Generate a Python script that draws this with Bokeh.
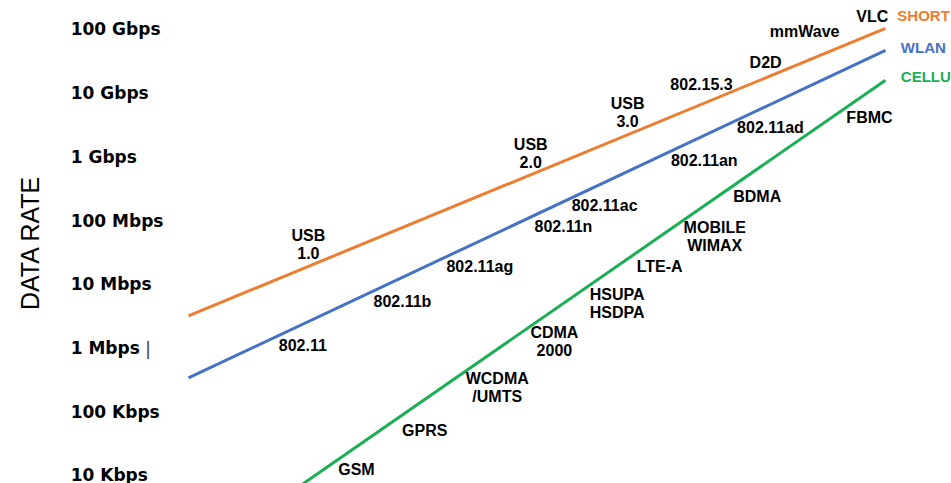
import math
from bokeh.plotting import figure
from bokeh.models import Range1d, ColumnDataSource
from bokeh.core.properties import value
from bokeh.embed import file_html
from bokeh.resources import INLINE

# ---- data -------------------------------------------------------------
tick_values = [1e11, 1e10, 1e9, 1e8, 1e7, 1e6, 1e5, 1e4]
tick_labels = ["100 Gbps", "10 Gbps", "1 Gbps", "100 Mbps",
               "10 Mbps", "1 Mbps", "100 Kbps", "10 Kbps"]

series_names = ["SHORT RANGE", "WLAN", "CELLULAR"]
series_colors = ["#ED7D31", "#4472C4", "#1AAF54"]
series_x_start = [0.0, 0.0, 14.2]
series_x_end = [100.0, 100.0, 100.0]
series_rate_start = [3.2e6, 3.4e5, 5.0e3]
series_rate_end = [1.04e11, 4.7e10, 1.6e10]
series_name_x = [101.7, 102.2, 102.2]
series_name_rate = [1.66e11, 5.2e10, 1.83e10]

short_tech = ["USB\n1.0", "USB\n2.0", "USB\n3.0", "802.15.3", "D2D", "mmWave", "VLC"]
short_x = [17.2, 49.1, 63.0, 73.6, 82.8, 88.4, 98.1]
short_rate = [4.2e7, 1.13e9, 4.98e9, 1.37e10, 3.03e10, 9.3e10, 1.6e11]

wlan_tech = ["802.11", "802.11b", "802.11ag", "802.11n", "802.11ac", "802.11an", "802.11ad"]
wlan_x = [16.4, 30.7, 41.8, 53.8, 59.7, 74.0, 83.5]
wlan_rate = [1.13e6, 5.4e6, 1.9e7, 8.1e7, 1.73e8, 8.8e8, 2.9e9]

cell_tech = ["GSM", "GPRS", "WCDMA\n/UMTS", "CDMA\n2000", "HSUPA\nHSDPA",
             "LTE-A", "MOBILE\nWIMAX", "BDMA", "FBMC"]
cell_x = [24.1, 33.9, 44.3, 52.5, 61.5, 67.6, 75.5, 81.6, 97.7]
cell_rate = [1.24e4, 5.1e4, 2.4e5, 1.26e6, 5.0e6, 1.9e7, 5.6e7, 2.39e8, 4.16e9]

axis_title = "DATA RATE"

# ---- figure -----------------------------------------------------------
p = figure(width=951, height=483, output_backend="svg", toolbar_location=None,
           y_axis_type="log", x_axis_location=None, y_axis_location=None,
           x_range=Range1d(-26.97, 109.47),
           y_range=Range1d(10 ** 3.873, 10 ** 11.455),
           min_border=0, min_border_left=0, min_border_right=0,
           min_border_top=0, min_border_bottom=0)
p.outline_line_color = None
p.xgrid.visible = False
p.ygrid.visible = False
p.background_fill_color = "white"
p.border_fill_color = "white"

# lines
for i in range(3):
    p.line([series_x_start[i], series_x_end[i]],
           [series_rate_start[i], series_rate_end[i]],
           line_color=series_colors[i], line_width=3)
    p.text([series_name_x[i]], [series_name_rate[i]], text=[series_names[i]],
           text_color=series_colors[i], text_font=value("Liberation Sans"),
           text_font_style="bold", text_font_size="15px",
           text_align="left", text_baseline="middle")

# technology labels
for xs, rs, ts in [(short_x, short_rate, short_tech),
                   (wlan_x, wlan_rate, wlan_tech),
                   (cell_x, cell_rate, cell_tech)]:
    src = ColumnDataSource(dict(x=xs, y=rs, t=ts))
    p.text("x", "y", text="t", source=src, text_color="black",
           text_font=value("Liberation Sans"), text_font_style="bold",
           text_font_size="16px", text_align="center", text_baseline="middle",
           text_line_height=1.1)

# y tick labels
tsrc = ColumnDataSource(dict(x=[-16.9] * len(tick_values), y=tick_values, t=tick_labels))
p.text("x", "y", text="t", source=tsrc, text_color="black",
       text_font=value("DejaVu Sans"), text_font_style="bold",
       text_font_size="17px", text_align="left", text_baseline="middle")

# small cursor-like mark after "1 Mbps"
p.text([-5.8], [1e6], text=["|"], text_color="#444444",
       text_font=value("DejaVu Sans"), text_font_size="18px",
       text_align="center", text_baseline="middle")

# axis title
p.text([-22.7], [4.5e7], text=[axis_title], angle=math.pi / 2,
       text_color="black", text_font=value("Liberation Sans"),
       text_font_size="25px", text_align="center", text_baseline="middle")

open("out.html", "w").write(file_html(p, INLINE))
